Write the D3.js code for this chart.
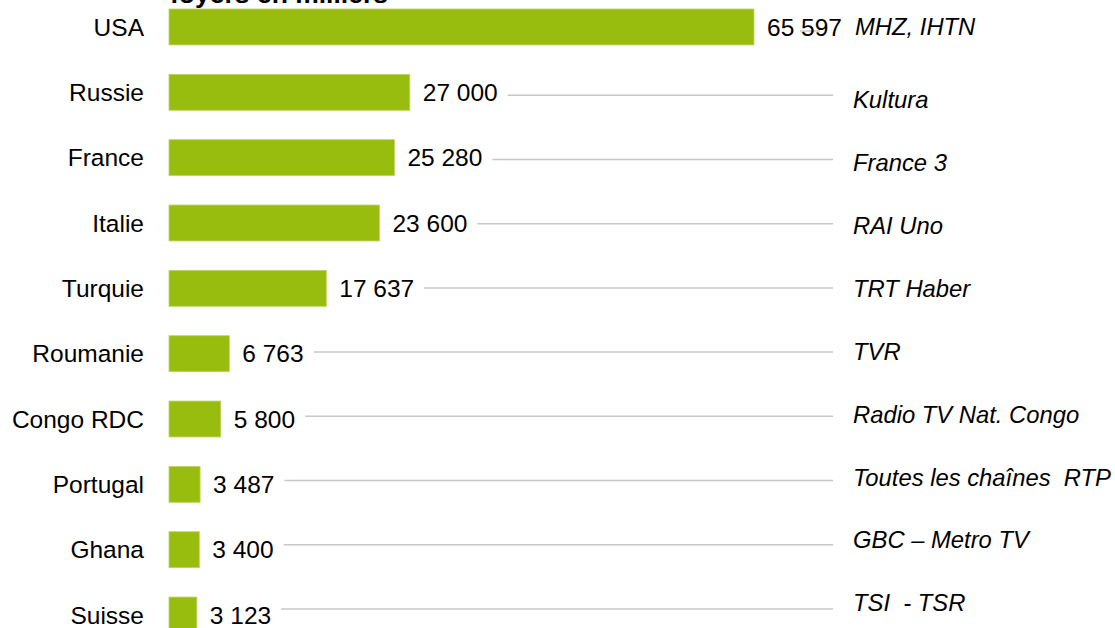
<!DOCTYPE html>
<html lang="fr">
<head>
<meta charset="UTF-8">
<title>Foyers en milliers</title>
<script src="https://cdn.jsdelivr.net/npm/d3@7"></script>
<style>
    body { margin: 0; background: #fff; }
    svg text { font-family: "Liberation Sans", Arial, sans-serif; fill: #000; white-space: pre; }
    .chan { font-style: italic; }
</style>
</head>
<body>
<svg class="chart"></svg>
<script>
    let countries = ['USA', 'Russie', 'France', 'Italie', 'Turquie', 'Roumanie', 'Congo RDC', 'Portugal', 'Ghana', 'Suisse'];
    let households = [65597, 27000, 25280, 23600, 17637, 6763, 5800, 3487, 3400, 3123];
    let channels = ['MHZ, IHTN', 'Kultura', 'France 3', 'RAI Uno', 'TRT Haber', 'TVR',
        'Radio TV Nat. Congo', 'Toutes les chaînes  RTP', 'GBC \u2013 Metro TV', 'TSI  - TSR'];

    let width = 1115, height = 628;
    let fs = 24.5, fsChan = 23.8;

    let data = countries.map((c, i) => ({ country: c, value: households[i], channel: channels[i] }));

    let x = d3.scaleLinear()
        .domain([0, d3.max(households)])
        .range([169, 754]);

    let y = d3.scaleBand()
        .domain(countries)
        .range([9, 633])
        .paddingInner(0.45)
        .paddingOuter(0);

    // la colonne de droite n'a pas tout à fait le même pas que les barres
    let yChan = d3.scalePoint().domain(countries).range([37, 603]);
    let yLine = d3.scalePoint().domain(countries).range([31, 609]);

    let fmt = v => d3.format(',')(v).replace(/,/g, ' ');

    let svg = d3.select('.chart')
        .attr('width', width)
        .attr('height', height);

    // titre coupé en haut, comme sur l'original
    svg.append('text')
        .attr('x', 170)
        .attr('y', 3)
        .style('font-size', '26.5px')
        .style('font-weight', 'bold')
        .text('foyers en milliers');

    let row = svg.selectAll('g.row')
        .data(data)
        .enter().append('g')
        .attr('class', 'row');

    let cy = d => y(d.country) + y.bandwidth() / 2;

    row.append('rect')
        .attr('x', x(0))
        .attr('y', d => y(d.country))
        .attr('width', d => x(d.value) - x(0))
        .attr('height', y.bandwidth())
        .attr('fill', '#99bd0f')
        .attr('stroke', '#b9d662')
        .attr('stroke-width', 0.8);

    row.append('text')
        .attr('x', 144)
        .attr('y', cy)
        .attr('dy', '0.35em')
        .attr('text-anchor', 'end')
        .style('font-size', fs + 'px')
        .text(d => d.country);

    let vals = row.append('text')
        .attr('x', d => x(d.value) + 13)
        .attr('y', cy)
        .attr('dy', '0.35em')
        .style('font-size', fs + 'px')
        .text(d => fmt(d.value));

    // lignes grises de liaison
    vals.each(function(d) {
        let b = this.getBBox();
        let usa = d.country === 'USA';
        let start = usa ? b.x + b.width - 42 : b.x + b.width + 10;
        let end = usa ? b.x + b.width - 22 : 833;
        d3.select(this.parentNode).insert('line', 'text')
            .attr('x1', start)
            .attr('x2', end)
            .attr('y1', yLine(d.country))
            .attr('y2', yLine(d.country))
            .attr('stroke', '#c8c8c8')
            .attr('stroke-width', 1.5);
    });

    row.append('text')
        .attr('class', 'chan')
        .attr('x', d => d.country === 'USA' ? 855 : 853)
        .attr('y', d => d.country === 'USA' ? cy(d) : yChan(d.country))
        .attr('dy', '0.35em')
        .style('font-size', fsChan + 'px')
        .text(d => d.channel);
</script>
</body>
</html>
